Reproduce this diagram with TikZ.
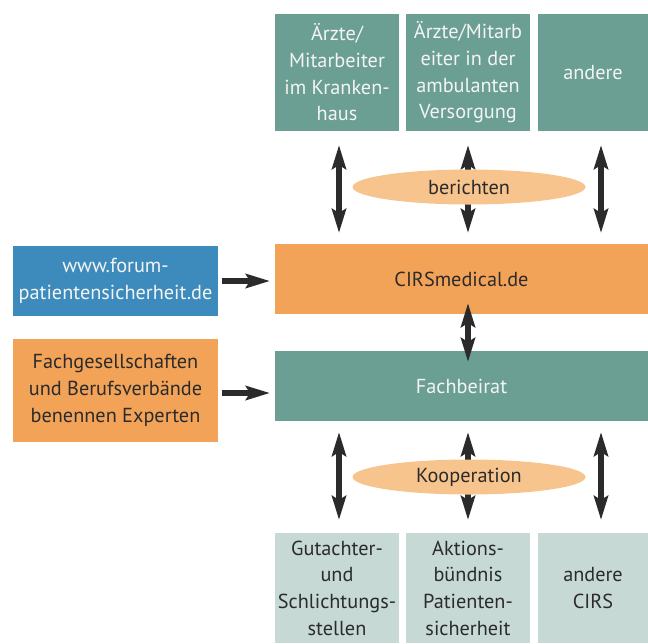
\documentclass[tikz,border=0pt]{standalone}
\usepackage{fontspec}
\setmainfont{PT Sans}
\usetikzlibrary{arrows.meta,shapes.geometric}
\definecolor{teal}{HTML}{6B9F93}
\definecolor{lteal}{HTML}{C6D9D5}
\definecolor{orng}{HTML}{F2A358}
\definecolor{lorng}{HTML}{F8C48E}
\definecolor{blu}{HTML}{3D8BBC}
\definecolor{dark}{HTML}{2B2B2B}
\definecolor{wtext}{HTML}{F4F4F4}
\tikzset{
  box/.style={rectangle, inner sep=0pt, align=center, font=\fontsize{15.2}{20}\selectfont},
  tealbox/.style={box, fill=teal, text=wtext},
  ltealbox/.style={box, fill=lteal, text=dark},
  orngbox/.style={box, fill=orng, text=dark},
  blubox/.style={box, fill=blu, text=wtext},
  oval/.style={ellipse, fill=lorng, inner sep=0pt, minimum width=174.75pt, minimum height=26.25pt, text=dark, font=\fontsize{15.2}{20}\selectfont},
  dbl/.style={draw=dark, line width=4.3pt, {Stealth[length=18pt,width=10.5pt,inset=3pt]}-{Stealth[length=18pt,width=10.5pt,inset=3pt]}},
  sgl/.style={draw=dark, line width=4.3pt, -{Stealth[length=18pt,width=10.5pt,inset=3pt]}}
}
\begin{document}
\begin{tikzpicture}[x=0.75pt,y=-0.75pt]
\useasboundingbox (0,0) rectangle (648,643);
% top boxes
\node[tealbox, minimum width=93pt, minimum height=87.75pt] (t1) at (337,72.5) {Ärzte/\\Mitarbeiter\\im Kranken-\\haus};
\node[tealbox, minimum width=93pt, minimum height=87.75pt] (t2) at (468,72.5) {Ärzte/Mitarb\\eiter in der\\ambulanten\\Versorgung};
\node[tealbox, minimum width=82.5pt, minimum height=87.75pt] (t3) at (593,72.5) {andere};
% middle
\node[orngbox, minimum width=279.75pt, minimum height=52.5pt] (cirs) at (461.5,279) {CIRSmedical.de};
\node[tealbox, minimum width=279.75pt, minimum height=52.5pt] (fach) at (461.5,386) {Fachbeirat};
\node[blubox, minimum width=153.75pt, minimum height=52.5pt] (forum) at (115.5,281) {www.forum-\\patientensicherheit.de};
\node[orngbox, minimum width=153.75pt, minimum height=77.25pt] (fg) at (115.5,390.5) {Fachgesellschaften\\und Berufsverbände\\benennen Experten};
% bottom boxes
\node[ltealbox, minimum width=93pt, minimum height=82.5pt] (b1) at (337,588) {Gutachter-\\und\\Schlichtungs-\\stellen};
\node[ltealbox, minimum width=93pt, minimum height=82.5pt] (b2) at (468,588) {Aktions-\\bündnis\\Patienten-\\sicherheit};
\node[ltealbox, minimum width=82.5pt, minimum height=82.5pt] (b3) at (593,588) {andere\\CIRS};
% arrow endpoints
\coordinate (a1t) at (339,145); \coordinate (a1b) at (339,233);
\coordinate (a2t) at (468,145); \coordinate (a2b) at (468,233);
\coordinate (a3t) at (601,145); \coordinate (a3b) at (601,233);
\coordinate (mt) at (468,303); \coordinate (mb) at (468,362);
\coordinate (c1t) at (339,432); \coordinate (c1b) at (339,520);
\coordinate (c2t) at (468,432); \coordinate (c2b) at (468,520);
\coordinate (c3t) at (601,432); \coordinate (c3b) at (601,520);
\coordinate (h1s) at (222,281); \coordinate (h1e) at (270,281);
\coordinate (h2s) at (222,393); \coordinate (h2e) at (270,393);
\draw[dbl] (a1t) -- (a1b);
\draw[dbl] (a2t) -- (a2b);
\draw[dbl] (a3t) -- (a3b);
\draw[dbl] (mt) -- (mb);
\draw[dbl] (c1t) -- (c1b);
\draw[dbl] (c2t) -- (c2b);
\draw[dbl] (c3t) -- (c3b);
\draw[sgl] (h1s) -- (h1e);
\draw[sgl] (h2s) -- (h2e);
% ovals
\node[oval] (ber) at (469,187) {berichten};
\node[oval] (koop) at (469,477) {Kooperation};
\end{tikzpicture}
\end{document}
